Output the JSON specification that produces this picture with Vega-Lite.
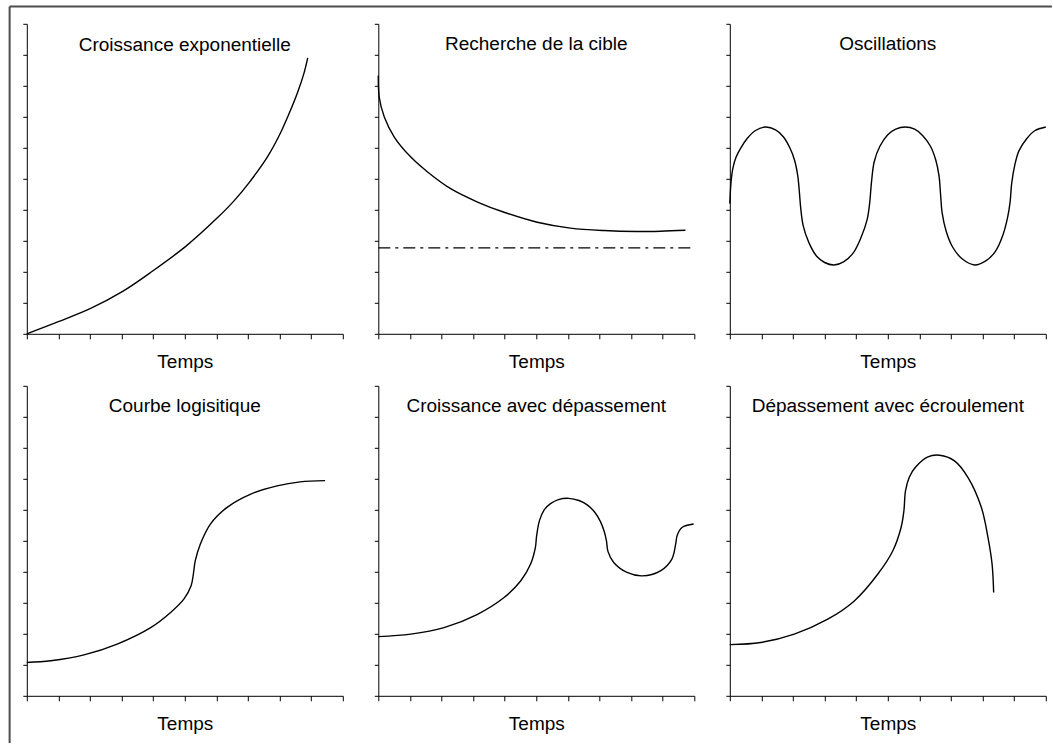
{
  "$schema": "https://vega.github.io/schema/vega-lite/v6.json",
  "background": "white",
  "padding": {"left": 7.8, "top": 4.8, "right": 0, "bottom": 0},
  "autosize": {"type": "pad"},
  "config": {
    "view": {"stroke": null},
    "font": "Liberation Sans",
    "title": {"fontSize": 19, "fontWeight": "normal", "font": "Liberation Sans", "color": "black", "anchor": "middle", "frame": "group", "baseline": "alphabetic", "offset": -31},
    "axis": {"grid": false, "labels": false, "domainColor": "black", "tickColor": "black", "domainWidth": 1, "tickWidth": 1, "values": [1, 2, 3, 4, 5, 6, 7, 8, 9, 10]},
    "axisX": {"tickSize": 5, "titleFontSize": 19, "titleFontWeight": "normal", "titleColor": "black", "titleFont": "Liberation Sans", "titleBaseline": "alphabetic", "titleY": 34},
    "axisY": {"tickSize": 4},
    "line": {"color": "black", "strokeWidth": 1.4, "interpolate": "catmull-rom"}
  },
  "datasets": {
    "p1": [
      {"t": 0, "v": 0}, {"t": 1.02, "v": 0.4}, {"t": 2.02, "v": 0.82}, {"t": 3.02, "v": 1.36},
      {"t": 3.92, "v": 1.98}, {"t": 5.03, "v": 2.82}, {"t": 6.03, "v": 3.74}, {"t": 6.55, "v": 4.28},
      {"t": 7.03, "v": 4.87}, {"t": 7.61, "v": 5.7}, {"t": 7.98, "v": 6.38}, {"t": 8.29, "v": 7.08},
      {"t": 8.56, "v": 7.76}, {"t": 8.77, "v": 8.4}, {"t": 8.89, "v": 8.9}
    ],
    "p2": [
      {"t": 0, "v": 8.33}, {"t": 0.03, "v": 7.63}, {"t": 0.19, "v": 6.99}, {"t": 0.51, "v": 6.34},
      {"t": 1.03, "v": 5.7}, {"t": 1.56, "v": 5.22}, {"t": 2.29, "v": 4.68}, {"t": 3.14, "v": 4.25},
      {"t": 3.98, "v": 3.92}, {"t": 5.03, "v": 3.6}, {"t": 6.08, "v": 3.41}, {"t": 7.14, "v": 3.33},
      {"t": 8.19, "v": 3.3}, {"t": 8.93, "v": 3.31}, {"t": 9.72, "v": 3.34}
    ],
    "p3": [
      {"t": 0, "v": 4.2}, {"t": 0.04, "v": 4.9}, {"t": 0.1, "v": 5.35}, {"t": 0.2, "v": 5.7},
      {"t": 0.35, "v": 6.0}, {"t": 0.55, "v": 6.3}, {"t": 0.8, "v": 6.55}, {"t": 1.12, "v": 6.67},
      {"t": 1.45, "v": 6.58}, {"t": 1.7, "v": 6.35}, {"t": 1.9, "v": 6.0}, {"t": 2.05, "v": 5.6},
      {"t": 2.15, "v": 5.1}, {"t": 2.2, "v": 4.6}, {"t": 2.24, "v": 4.1}, {"t": 2.32, "v": 3.5},
      {"t": 2.5, "v": 2.95}, {"t": 2.75, "v": 2.5}, {"t": 3.0, "v": 2.3}, {"t": 3.3, "v": 2.22},
      {"t": 3.6, "v": 2.32}, {"t": 3.9, "v": 2.6}, {"t": 4.15, "v": 3.1}, {"t": 4.35, "v": 3.7},
      {"t": 4.43, "v": 4.25}, {"t": 4.48, "v": 4.85}, {"t": 4.57, "v": 5.55}, {"t": 4.75, "v": 6.05},
      {"t": 5.0, "v": 6.42}, {"t": 5.25, "v": 6.6}, {"t": 5.55, "v": 6.67}, {"t": 5.85, "v": 6.6},
      {"t": 6.1, "v": 6.4}, {"t": 6.35, "v": 6.05}, {"t": 6.52, "v": 5.6}, {"t": 6.62, "v": 5.1},
      {"t": 6.67, "v": 4.5}, {"t": 6.72, "v": 3.9}, {"t": 6.85, "v": 3.3}, {"t": 7.05, "v": 2.8},
      {"t": 7.35, "v": 2.42}, {"t": 7.75, "v": 2.22}, {"t": 8.1, "v": 2.35}, {"t": 8.4, "v": 2.65},
      {"t": 8.62, "v": 3.12}, {"t": 8.79, "v": 3.75}, {"t": 8.87, "v": 4.25}, {"t": 8.92, "v": 4.85},
      {"t": 9.02, "v": 5.45}, {"t": 9.15, "v": 5.9}, {"t": 9.4, "v": 6.3}, {"t": 9.65, "v": 6.55},
      {"t": 10.0, "v": 6.67}
    ],
    "p4": [
      {"t": 0, "v": 1.075}, {"t": 0.76, "v": 1.13}, {"t": 1.81, "v": 1.32}, {"t": 2.86, "v": 1.67},
      {"t": 3.92, "v": 2.2}, {"t": 4.55, "v": 2.69}, {"t": 4.97, "v": 3.12}, {"t": 5.2, "v": 3.55},
      {"t": 5.27, "v": 3.92}, {"t": 5.33, "v": 4.35}, {"t": 5.49, "v": 4.89}, {"t": 5.81, "v": 5.54},
      {"t": 6.34, "v": 6.08}, {"t": 7.07, "v": 6.5}, {"t": 7.92, "v": 6.77}, {"t": 8.65, "v": 6.9},
      {"t": 9.44, "v": 6.94}
    ],
    "p5": [
      {"t": 0, "v": 1.91}, {"t": 1.03, "v": 1.99}, {"t": 2.08, "v": 2.2}, {"t": 3.14, "v": 2.63},
      {"t": 3.98, "v": 3.17}, {"t": 4.51, "v": 3.71}, {"t": 4.82, "v": 4.25}, {"t": 4.97, "v": 4.78},
      {"t": 5.01, "v": 5.16}, {"t": 5.1, "v": 5.65}, {"t": 5.25, "v": 6.0}, {"t": 5.45, "v": 6.2},
      {"t": 5.7, "v": 6.33}, {"t": 6.03, "v": 6.37}, {"t": 6.35, "v": 6.3}, {"t": 6.61, "v": 6.16},
      {"t": 6.85, "v": 5.92}, {"t": 7.03, "v": 5.62}, {"t": 7.15, "v": 5.3}, {"t": 7.22, "v": 5.0},
      {"t": 7.27, "v": 4.65}, {"t": 7.45, "v": 4.3}, {"t": 7.87, "v": 3.98}, {"t": 8.35, "v": 3.87},
      {"t": 8.93, "v": 4.03}, {"t": 9.29, "v": 4.41}, {"t": 9.41, "v": 4.89}, {"t": 9.46, "v": 5.18},
      {"t": 9.61, "v": 5.43}, {"t": 9.98, "v": 5.54}
    ],
    "p6": [
      {"t": 0, "v": 1.65}, {"t": 0.98, "v": 1.72}, {"t": 2.04, "v": 1.99}, {"t": 3.1, "v": 2.47},
      {"t": 3.94, "v": 3.06}, {"t": 4.68, "v": 3.92}, {"t": 5.16, "v": 4.68}, {"t": 5.42, "v": 5.43},
      {"t": 5.51, "v": 5.97}, {"t": 5.56, "v": 6.61}, {"t": 5.68, "v": 7.05}, {"t": 5.88, "v": 7.38},
      {"t": 6.27, "v": 7.71}, {"t": 6.64, "v": 7.76}, {"t": 7.11, "v": 7.58}, {"t": 7.54, "v": 7.04},
      {"t": 7.96, "v": 6.08}, {"t": 8.17, "v": 5.11}, {"t": 8.3, "v": 4.25}, {"t": 8.35, "v": 3.33}
    ]
  },
  "columns": 3,
  "spacing": {"column": 35.5, "row": 52},
  "bounds": "flush",
  "concat": [
    {
      "width": 316, "height": 310,
      "title": {"text": "Croissance exponentielle", "offset": -49},
      "layer": [
        {
          "data": {"name": "p1"},
          "mark": {"type": "line"},
          "encoding": {
            "x": {"field": "t", "type": "quantitative", "scale": {"domain": [0, 10], "nice": false}, "axis": {"title": "Temps"}},
            "y": {"field": "v", "type": "quantitative", "scale": {"domain": [0, 10], "nice": false}, "axis": {"title": null}}
          }
        },
        {
          "data": {"values": [{}]},
          "mark": {"type": "rule", "color": "#4d4d4d", "strokeWidth": 2},
          "encoding": {"x": {"datum": -0.544}, "x2": {"datum": 32.44}, "y": {"datum": 10.555}}
        },
        {
          "data": {"values": [{}]},
          "mark": {"type": "rule", "color": "#4d4d4d", "strokeWidth": 2},
          "encoding": {"x": {"datum": -0.544}, "y": {"datum": 10.555}, "y2": {"datum": -13.2}}
        }
      ]
    },
    {
      "width": 316, "height": 310,
      "title": "Recherche de la cible",
      "layer": [
        {
          "data": {"name": "p2"},
          "mark": {"type": "line"},
          "encoding": {
            "x": {"field": "t", "type": "quantitative", "scale": {"domain": [0, 10], "nice": false}, "axis": {"title": "Temps"}},
            "y": {"field": "v", "type": "quantitative", "scale": {"domain": [0, 10], "nice": false}, "axis": {"title": null}}
          }
        },
        {
          "data": {"values": [{}]},
          "mark": {"type": "rule", "color": "black", "strokeWidth": 1.2, "strokeDash": [12, 5, 3, 5]},
          "encoding": {"x": {"datum": 0}, "x2": {"datum": 9.95}, "y": {"datum": 2.77}}
        }
      ]
    },
    {
      "width": 316, "height": 310,
      "title": "Oscillations",
      "data": {"name": "p3"},
      "mark": {"type": "line"},
      "encoding": {
        "x": {"field": "t", "type": "quantitative", "scale": {"domain": [0, 10], "nice": false}, "axis": {"title": "Temps"}},
        "y": {"field": "v", "type": "quantitative", "scale": {"domain": [0, 10], "nice": false}, "axis": {"title": null}}
      }
    },
    {
      "width": 316, "height": 310,
      "title": "Courbe logisitique",
      "data": {"name": "p4"},
      "mark": {"type": "line"},
      "encoding": {
        "x": {"field": "t", "type": "quantitative", "scale": {"domain": [0, 10], "nice": false}, "axis": {"title": "Temps"}},
        "y": {"field": "v", "type": "quantitative", "scale": {"domain": [0, 10], "nice": false}, "axis": {"title": null}}
      }
    },
    {
      "width": 316, "height": 310,
      "title": "Croissance avec dépassement",
      "data": {"name": "p5"},
      "mark": {"type": "line"},
      "encoding": {
        "x": {"field": "t", "type": "quantitative", "scale": {"domain": [0, 10], "nice": false}, "axis": {"title": "Temps"}},
        "y": {"field": "v", "type": "quantitative", "scale": {"domain": [0, 10], "nice": false}, "axis": {"title": null}}
      }
    },
    {
      "width": 316, "height": 310,
      "title": "Dépassement avec écroulement",
      "data": {"name": "p6"},
      "mark": {"type": "line"},
      "encoding": {
        "x": {"field": "t", "type": "quantitative", "scale": {"domain": [0, 10], "nice": false}, "axis": {"title": "Temps"}},
        "y": {"field": "v", "type": "quantitative", "scale": {"domain": [0, 10], "nice": false}, "axis": {"title": null}}
      }
    }
  ]
}
